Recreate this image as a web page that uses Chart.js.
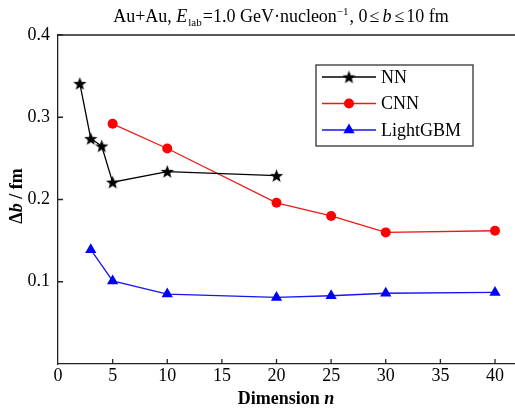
<!DOCTYPE html>
<html>
<head>
<meta charset="utf-8">
<script src="https://cdn.jsdelivr.net/npm/chart.js@4/dist/chart.umd.min.js"></script>
<style>
  html, body { margin: 0; padding: 0; background: #fff; }
  canvas { display: block; }
</style>
</head>
<body>
<canvas id="chart" width="515" height="410"></canvas>
<script>
// data
const nnX = [2, 3, 4, 5, 10, 20];
const nnY = [0.341, 0.274, 0.265, 0.221, 0.234, 0.229];
const cnnX = [5, 10, 20, 25, 30, 40];
const cnnY = [0.292, 0.262, 0.196, 0.180, 0.160, 0.162];
const lgbX = [3, 5, 10, 20, 25, 30, 40];
const lgbY = [0.139, 0.101, 0.085, 0.081, 0.083, 0.086, 0.087];
const xTicks = [0, 5, 10, 15, 20, 25, 30, 35, 40];
const yTicks = [0.1, 0.2, 0.3, 0.4];

const serif = "'Liberation Serif', 'Times New Roman', serif";

// filled black star used as marker
function makeStar(size, color) {
  const c = document.createElement("canvas");
  c.width = size;
  c.height = size;
  const g = c.getContext("2d");
  const cx = size / 2, cy = size / 2 + 0.6;
  const outer = size / 2 - 0.5, inner = outer * 0.42;
  g.beginPath();
  for (let i = 0; i < 10; i++) {
    const r = i % 2 === 0 ? outer : inner;
    const a = -Math.PI / 2 + i * Math.PI / 5;
    g.lineTo(cx + r * Math.cos(a), cy + r * Math.sin(a));
  }
  g.closePath();
  g.fillStyle = color;
  g.fill();
  return c;
}
const starImg = makeStar(15, "#000");

function toPoints(xs, ys) {
  return xs.map((x, i) => ({ x: x, y: ys[i] }));
}

// draws a run of text pieces (different fonts / offsets) centred on cx
function drawPieces(ctx, segs, cx, y) {
  let total = 0;
  segs.forEach((s) => { ctx.font = s.f; s.w = ctx.measureText(s.t).width + (s.gap || 0); total += s.w; });
  let tx = cx - total / 2;
  segs.forEach((s) => {
    ctx.font = s.f;
    ctx.fillText(s.t, tx, y + (s.dy || 0));
    tx += s.w;
  });
}

const extras = {
  id: "extras",
  afterDraw(chart) {
    const ctx = chart.ctx;
    const area = chart.chartArea;
    const xs = chart.scales.x, ys = chart.scales.y;
    ctx.save();
    ctx.strokeStyle = "#222";
    ctx.lineWidth = 1.3;

    // top frame line
    ctx.beginPath();
    ctx.moveTo(area.left, area.top);
    ctx.lineTo(area.right, area.top);
    ctx.stroke();

    // inward ticks
    ctx.beginPath();
    xTicks.forEach((v) => {
      if (v === 0) return;
      const px = xs.getPixelForValue(v);
      ctx.moveTo(px, area.bottom);
      ctx.lineTo(px, area.bottom - 5);
    });
    yTicks.forEach((v) => {
      const py = ys.getPixelForValue(v);
      ctx.moveTo(area.left, py);
      ctx.lineTo(area.left + 5, py);
    });
    ctx.stroke();

    // legend
    const lx = 316, ly = 65, lw = 157, lh = 81;
    ctx.strokeStyle = "#333";
    ctx.lineWidth = 1.3;
    ctx.strokeRect(lx, ly, lw, lh);
    const rows = [77, 103.5, 130];
    chart.data.datasets.forEach((ds, i) => {
      const y = rows[i];
      ctx.strokeStyle = ds.borderColor;
      ctx.lineWidth = 1.3;
      ctx.beginPath();
      ctx.moveTo(322, y);
      ctx.lineTo(376, y);
      ctx.stroke();
      ctx.fillStyle = ds.pointBackgroundColor;
      ctx.strokeStyle = ds.pointBorderColor;
      Chart.helpers.drawPoint(ctx, {
        pointStyle: ds.pointStyle,
        radius: ds.pointRadius,
        rotation: 0,
        borderWidth: 0
      }, 349, y);
      ctx.fillStyle = "#000";
      ctx.font = "18px " + serif;
      ctx.textAlign = "left";
      ctx.textBaseline = "middle";
      ctx.fillText(ds.label, 381, y + 1);
    });

    ctx.textAlign = "left";
    ctx.textBaseline = "alphabetic";
    ctx.fillStyle = "#000";

    // title with sub/superscripts
    const big = "18px " + serif;
    const bigIt = "italic 18px " + serif;
    const small = "11px " + serif;
    drawPieces(ctx, [
      { t: "Au+Au, ", f: big },
      { t: "E", f: bigIt, gap: 1 },
      { t: "lab", f: small, dy: 4, gap: 1 },
      { t: "=1.0 GeV\u00b7nucleon", f: big },
      { t: "\u22121", f: small, dy: -7, gap: 1 },
      { t: ", 0", f: big, gap: 2 },
      { t: "\u2264", f: big, gap: 3 },
      { t: "b", f: bigIt, gap: 3 },
      { t: "\u2264", f: big, gap: 2 },
      { t: "10 fm", f: big }
    ], 281, 22);

    // x axis title
    drawPieces(ctx, [
      { t: "Dimension ", f: "bold 18px " + serif },
      { t: "n", f: "italic bold 18px " + serif }
    ], 286, 404);

    // y axis title
    ctx.translate(22, 196);
    ctx.rotate(-Math.PI / 2);
    drawPieces(ctx, [
      { t: "\u0394", f: "bold 18px " + serif },
      { t: "b", f: "italic bold 18px " + serif },
      { t: " / fm", f: "bold 18px " + serif }
    ], 0, 0);
    ctx.restore();
  }
};

const config = {
  type: "line",
  data: {
    datasets: [
      {
        label: "NN",
        data: toPoints(nnX, nnY),
        borderColor: "#000",
        borderWidth: 1.3,
        pointStyle: starImg,
        pointRadius: 7,
        pointBackgroundColor: "#000",
        pointBorderColor: "#000"
      },
      {
        label: "CNN",
        data: toPoints(cnnX, cnnY),
        borderColor: "#f01818",
        borderWidth: 1.3,
        pointStyle: "circle",
        pointRadius: 5,
        pointBorderWidth: 0,
        pointBackgroundColor: "#f00",
        pointBorderColor: "#f00"
      },
      {
        label: "LightGBM",
        data: toPoints(lgbX, lgbY),
        borderColor: "#1515f0",
        borderWidth: 1.3,
        pointStyle: "triangle",
        pointRadius: 6.5,
        pointBorderWidth: 0,
        pointBackgroundColor: "#00f",
        pointBorderColor: "#00f"
      }
    ]
  },
  options: {
    responsive: false,
    animation: false,
    devicePixelRatio: 1,
    layout: { autoPadding: false, padding: { top: 35, left: 0, right: 0, bottom: 0 } },
    plugins: {
      legend: { display: false },
      tooltip: { enabled: false },
      title: { display: false }
    },
    elements: { line: { tension: 0 } },
    scales: {
      x: {
        type: "linear",
        min: 0,
        max: 41.83,
        afterBuildTicks: (s) => { s.ticks = xTicks.map((v) => ({ value: v })); },
        afterFit: (s) => { s.height = 46; s.paddingRight = 0; s.paddingLeft = 0; },
        grid: { display: false, drawTicks: false },
        border: { color: "#222", width: 1.3 },
        ticks: {
          color: "#000",
          font: { family: serif, size: 18 },
          maxRotation: 0,
          padding: 1
        }
      },
      y: {
        min: 0,
        max: 0.4,
        afterBuildTicks: (s) => { s.ticks = yTicks.map((v) => ({ value: v })); },
        afterFit: (s) => { s.width = 58; s.paddingTop = 0; s.paddingBottom = 0; },
        grid: { display: false, drawTicks: false },
        border: { color: "#222", width: 1.3 },
        ticks: {
          color: "#000",
          font: { family: serif, size: 18 },
          padding: 8,
          callback: (v) => v.toFixed(1)
        }
      }
    }
  },
  plugins: [extras]
};

new Chart(document.getElementById("chart"), config);
</script>
</body>
</html>
